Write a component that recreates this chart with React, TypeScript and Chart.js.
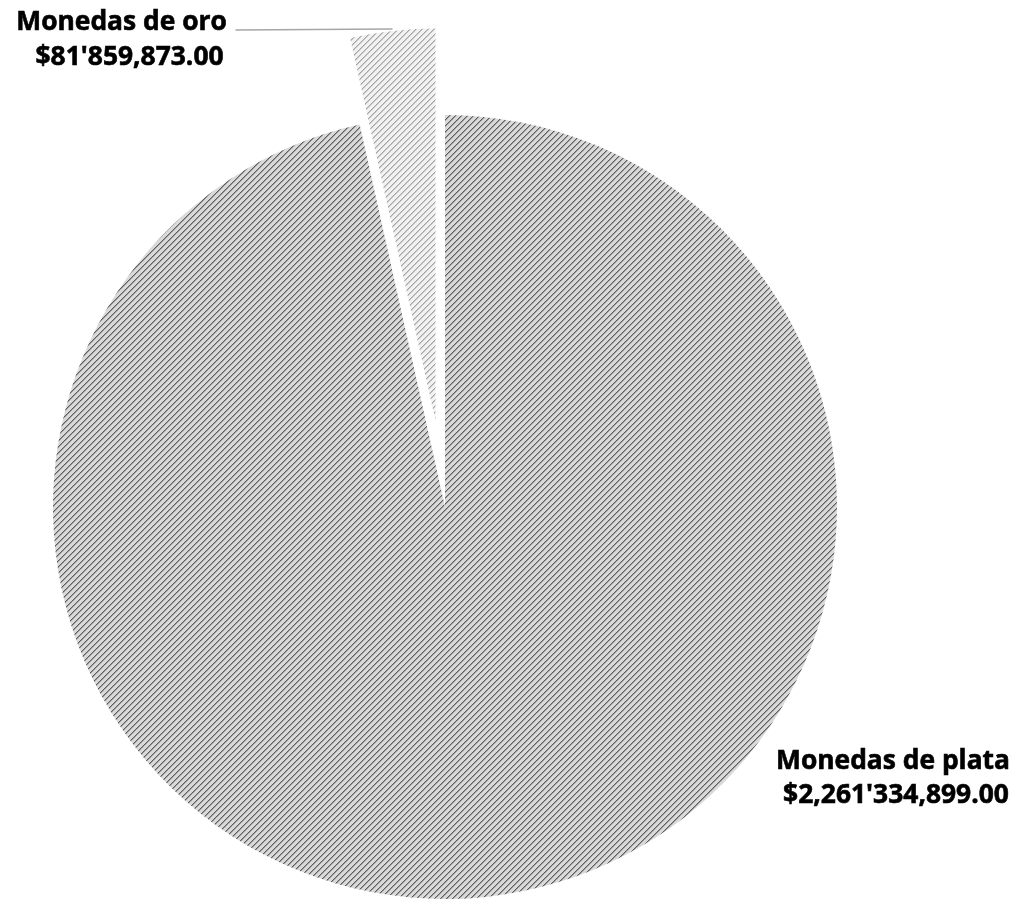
import React, { useEffect, useRef } from 'react';
import { Chart, registerables } from 'chart.js';

Chart.register(...registerables);

// ---- Data ----
const categories = ['Monedas de plata', 'Monedas de oro'];
const values = [2261334899, 81859873];
const valueLabels = ["$2,261'334,899.00", "$81'859,873.00"];

// ---- Styles ----
const W = 1032;
const H = 899;
const PIE_RADIUS = 392;
const EXPLODE = [0, 87];
const FONT = '700 26px "Open Sans", "Noto Sans", sans-serif';

function makePattern(ctx: CanvasRenderingContext2D, bg: string, stripes: string[], period: number) {
  const c = document.createElement('canvas');
  c.width = period;
  c.height = period;
  const g = c.getContext('2d')!;
  for (let y = 0; y < period; y++) {
    for (let x = 0; x < period; x++) {
      const k = (x + y) % period;
      g.fillStyle = k < stripes.length ? stripes[k] : bg;
      g.fillRect(x, y, 1, 1);
    }
  }
  return ctx.createPattern(c, 'repeat')!;
}

const explodePlugin = {
  id: 'explode',
  afterDatasetUpdate(chart: any, args: any) {
    args.meta.data.forEach((arc: any, i: number) => {
      const d = EXPLODE[i] || 0;
      if (!d) return;
      const mid = (arc.startAngle + arc.endAngle) / 2;
      arc.x += Math.cos(mid) * d;
      arc.y += Math.sin(mid) * d;
    });
  },
};

const labelPlugin = {
  id: 'pieLabels',
  afterDraw(chart: any) {
    const ctx: CanvasRenderingContext2D = chart.ctx;
    const arcs = chart.getDatasetMeta(0).data;
    const big = arcs[0];
    const small = arcs[1];
    ctx.save();
    ctx.font = FONT;
    const sx = 234 / ctx.measureText(categories[0]).width;
    const line = (text: string, cx: number, by: number) => {
      ctx.save();
      ctx.translate(cx, by);
      ctx.scale(sx, 1);
      ctx.textAlign = 'center';
      ctx.textBaseline = 'alphabetic';
      ctx.fillStyle = '#000000';
      ctx.strokeStyle = '#000000';
      ctx.lineWidth = 0.6;
      ctx.fillText(text, 0, 0);
      ctx.strokeText(text, 0, 0);
      ctx.restore();
    };
    // small slice: leader line to the middle of its outer arc
    const smid = (small.startAngle + small.endAngle) / 2;
    const px = small.x + Math.cos(smid) * small.outerRadius;
    const py = small.y + Math.sin(smid) * small.outerRadius;
    ctx.strokeStyle = '#a6a6a6';
    ctx.lineWidth = 1.5;
    ctx.beginPath();
    ctx.moveTo(px - 157, py - 1);
    ctx.lineTo(px, py - 2);
    ctx.stroke();
    line(categories[1], px - 271, py - 1);
    line(valueLabels[1], px - 263, py + 34);
    // big slice label
    line(categories[0], big.x + 448, big.y + 262);
    line(valueLabels[0], big.x + 451, big.y + 296);
    ctx.restore();
  },
};

export default function App() {
  const ref = useRef<HTMLCanvasElement>(null);
  useEffect(() => {
    const canvas = ref.current!;
    const ctx = canvas.getContext('2d')!;
    const bigPattern = makePattern(ctx, '#d9d9d9', ['#5e5e5e', '#9c9c9c'], 6);
    const smallPattern = makePattern(ctx, '#f2f2f2', ['#a4a4a4', '#cacaca'], 6);
    const chart = new Chart(canvas, {
      type: 'pie',
      data: {
        labels: categories,
        datasets: [
          {
            data: values,
            backgroundColor: [bigPattern, smallPattern],
            borderWidth: 0,
          },
        ],
      },
      options: {
        responsive: false,
        devicePixelRatio: 1,
        animation: false,
        radius: PIE_RADIUS,
        layout: { padding: { left: 0, right: 142, top: 115, bottom: 0 } },
        plugins: {
          legend: { display: false },
          tooltip: { enabled: false },
        },
      } as any,
      plugins: [explodePlugin, labelPlugin],
    });
    return () => chart.destroy();
  }, []);
  return (
    <canvas
      ref={ref}
      width={W}
      height={H}
      style={{ position: 'absolute', left: 0, top: 0, width: W, height: H, background: '#ffffff' }}
    />
  );
}
